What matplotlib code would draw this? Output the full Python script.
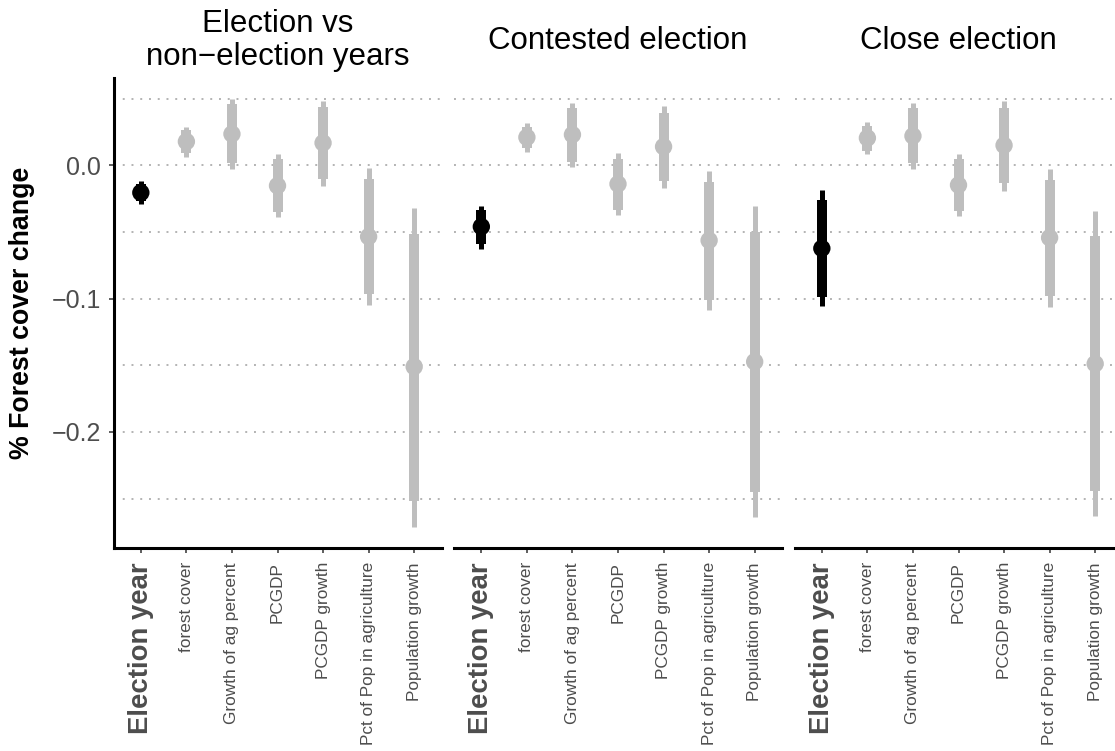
import matplotlib
matplotlib.use("Agg")
import matplotlib.pyplot as plt
import numpy as np

plt.rcParams["font.family"] = ["Liberation Sans", "DejaVu Sans"]

# ---- data -------------------------------------------------------------
categories = ["Election year", "forest cover", "Growth of ag percent", "PCGDP",
              "PCGDP growth", "Pct of Pop in agriculture", "Population growth"]
panel_titles = [["Election vs", "non\u2212election years"],
                ["Contested election"],
                ["Close election"]]

# Election vs non-election years
est_1 = [-0.0205, 0.0178, 0.0235, -0.0153, 0.0168, -0.0535, -0.151]
inner_lo_1 = [-0.027, 0.0095, 0.0015, -0.0353, -0.0105, -0.0963, -0.2515]
inner_hi_1 = [-0.014, 0.0265, 0.046, 0.0048, 0.0435, -0.0105, -0.0515]
outer_lo_1 = [-0.029, 0.0063, -0.003, -0.0388, -0.0155, -0.1048, -0.271]
outer_hi_1 = [-0.0115, 0.029, 0.0498, 0.0085, 0.0485, -0.0023, -0.032]

# Contested election
est_2 = [-0.046, 0.021, 0.023, -0.014, 0.014, -0.0563, -0.1473]
inner_lo_2 = [-0.059, 0.0128, 0.0028, -0.0335, -0.0115, -0.101, -0.2448]
inner_hi_2 = [-0.0335, 0.029, 0.0428, 0.005, 0.0395, -0.0123, -0.0498]
outer_lo_2 = [-0.0625, 0.0098, -0.0015, -0.0373, -0.0168, -0.1085, -0.2635]
outer_hi_2 = [-0.0303, 0.032, 0.0465, 0.009, 0.0445, -0.004, -0.0305]

# Close election
est_3 = [-0.0623, 0.0205, 0.022, -0.0148, 0.015, -0.0543, -0.1488]
inner_lo_3 = [-0.0985, 0.011, 0.0015, -0.0343, -0.0135, -0.098, -0.2443]
inner_hi_3 = [-0.026, 0.0295, 0.0428, 0.0048, 0.043, -0.011, -0.053]
outer_lo_3 = [-0.1055, 0.0083, -0.003, -0.038, -0.019, -0.106, -0.263]
outer_hi_3 = [-0.0185, 0.0325, 0.0465, 0.0085, 0.0485, -0.003, -0.0343]

ytick_values = [-0.2, -0.1, 0.0]
ytick_labels = ["\u22120.2", "\u22120.1", "0.0"]
grid_values = [-0.25, -0.2, -0.15, -0.1, -0.05, 0.0, 0.05]

panels = [
    (est_1, inner_lo_1, inner_hi_1, outer_lo_1, outer_hi_1),
    (est_2, inner_lo_2, inner_hi_2, outer_lo_2, outer_hi_2),
    (est_3, inner_lo_3, inner_hi_3, outer_lo_3, outer_hi_3),
]

# ---- layout -----------------------------------------------------------
W, H = 1115, 751
fig = plt.figure(figsize=(W / 100, H / 100), dpi=100)

panel_left_px = [113.5, 454.0, 794.5]
panel_w_px = 328.0
panel_top_px, panel_bot_px = 77.7, 548.0

highlight = "#000000"
muted = "#BEBEBE"
text_gray = "#4D4D4D"

for k, (est, ilo, ihi, olo, ohi) in enumerate(panels):
    ax = fig.add_axes([panel_left_px[k] / W, (H - panel_bot_px) / H,
                       panel_w_px / W, (panel_bot_px - panel_top_px) / H])
    x = np.arange(len(categories))
    colors = [highlight if i == 0 else muted for i in x]

    for g in grid_values:
        ax.axhline(g, color="#B3B3B3", lw=1.4, ls=(0, (1, 3.5)), zorder=0)

    ax.vlines(x, olo, ohi, colors=colors, lw=3.6, zorder=2, capstyle="butt")
    ax.vlines(x, ilo, ihi, colors=colors, lw=7.2, zorder=3, capstyle="butt")
    ax.scatter(x, est, s=12.5 ** 2, c=colors, zorder=4, linewidths=0)

    ax.set_xlim(-0.6, 6.6)
    ax.set_ylim(-0.287, 0.0657)

    for side in ["top", "right"]:
        ax.spines[side].set_visible(False)
    ax.spines["bottom"].set_linewidth(2.2)
    ax.spines["bottom"].set_color("black")
    if k == 0:
        ax.spines["left"].set_linewidth(2.2)
        ax.spines["left"].set_color("black")
        ax.set_yticks(ytick_values)
        ax.set_yticklabels(ytick_labels)
        ax.tick_params(axis="y", length=3.6, width=1.1, color="#333333",
                       pad=5.5, labelsize=18, labelcolor=text_gray)
        ax.set_ylabel("% Forest cover change", fontsize=19.3, fontweight="bold",
                      labelpad=12)
    else:
        ax.spines["left"].set_visible(False)
        ax.set_yticks([])

    ax.set_xticks(x)
    ax.set_xticklabels(categories, rotation=90)
    ax.tick_params(axis="x", length=3.6, width=1.1, color="#333333",
                   pad=6.5, labelsize=12.4, labelcolor=text_gray)
    first = ax.get_xticklabels()[0]
    first.set_fontsize(19.8)
    first.set_fontweight("bold")

    # strip title
    cx = (panel_left_px[k] + panel_w_px / 2) / W
    lines = panel_titles[k]
    if len(lines) == 1:
        fig.text(cx, 1 - 49.3 / H, lines[0], ha="center", va="baseline",
                 fontsize=22.5, color="black")
    else:
        for j, line in enumerate(lines):
            fig.text(cx, 1 - (32.3 + 32.7 * j) / H, line, ha="center",
                     va="baseline", fontsize=22.5, color="black")

fig.savefig("out.png", dpi=100, facecolor="white")
